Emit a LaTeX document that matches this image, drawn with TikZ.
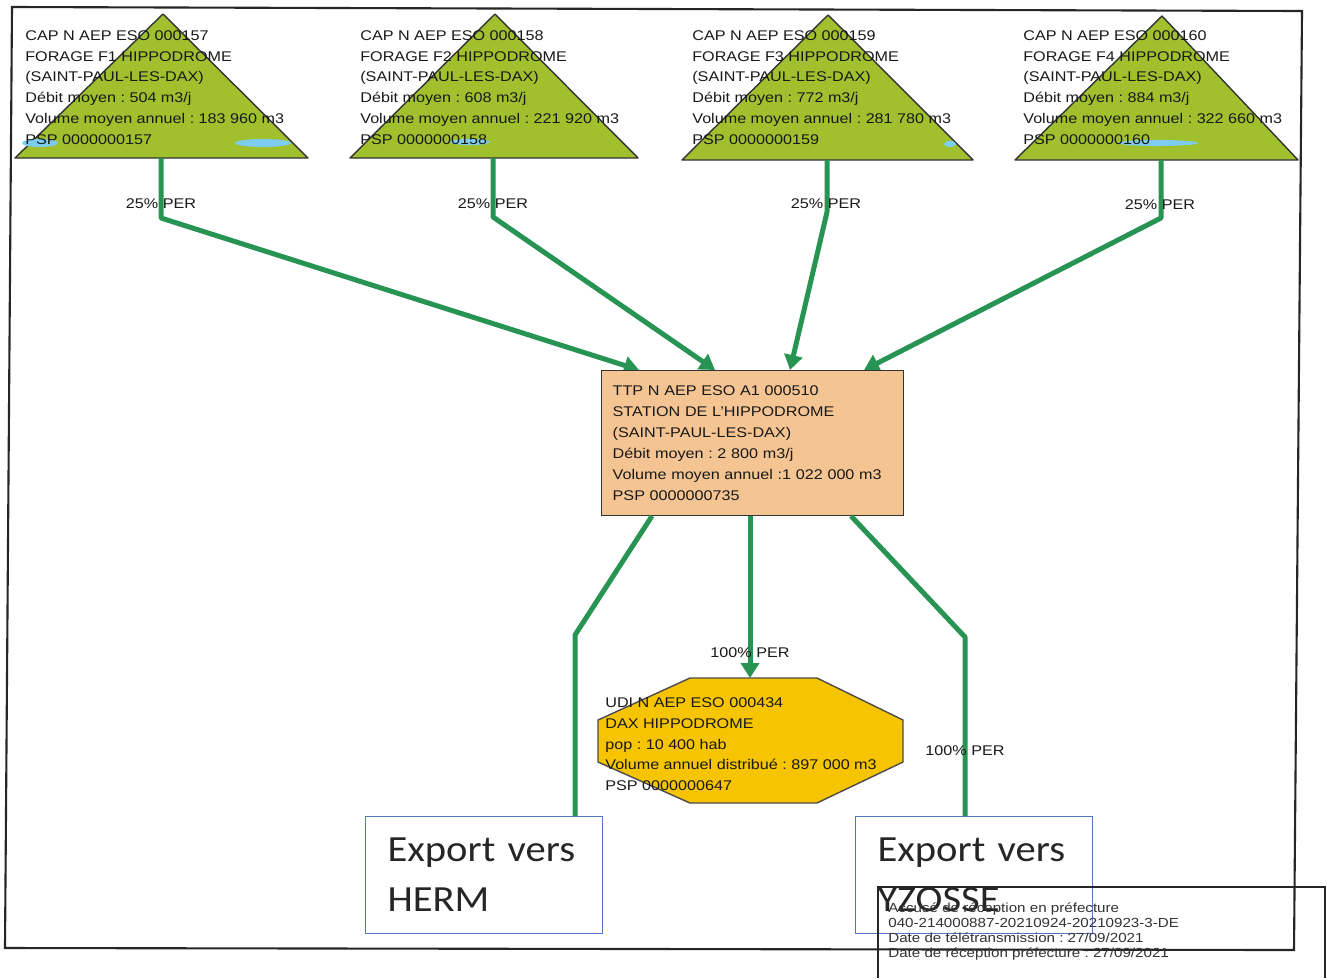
\documentclass[tikz,border=0pt]{standalone}
\usepackage{fontspec}
\setmainfont[FakeStretch=1.15]{Liberation Sans}
\newfontfamily\calibfont[FakeStretch=1.1]{Carlito}
\usetikzlibrary{arrows.meta}
\frenchspacing

\definecolor{capgreen}{RGB}{160,192,46}
\definecolor{pergreen}{RGB}{40,148,84}
\definecolor{ttpfill}{RGB}{244,196,146}
\definecolor{udifill}{RGB}{246,196,0}
\definecolor{nappe}{RGB}{125,205,240}
\definecolor{exportblue}{RGB}{84,120,192}
\definecolor{texte}{RGB}{25,25,25}

\tikzset{
  forage/.style={fill=capgreen, draw=black!80, line width=0.8pt, line join=round},
  fiche/.style={anchor=north west, align=left, inner sep=0pt, text=texte, font=\fontsize{8}{11.9}\selectfont},
  per/.style={pergreen, line width=0.1cm, line join=round},
  perarrow/.style={per, -{Triangle[width=0.36cm,length=0.3cm]}},
  perlab/.style={text=texte, inner sep=0pt, font=\fontsize{8}{9}\selectfont},
  ttpbox/.style={draw=black!80, fill=ttpfill, line width=0.8pt, anchor=north west, align=left, text=texte,
    font=\fontsize{8}{11.9}\selectfont, inner xsep=0.22cm, text width=5.6cm, minimum width=6.04cm, minimum height=2.9cm},
  udi/.style={fill=udifill, draw=black!70, line width=0.8pt, line join=round},
  export/.style={draw=exportblue, fill=white, line width=0.6pt, anchor=north west, align=left, text=black!85,
    font=\calibfont\fontsize{21}{28.5}\selectfont, inner xsep=0.44cm, text width=3.86cm, minimum width=4.74cm, minimum height=2.34cm},
  stamp/.style={anchor=north west, align=left, inner sep=0pt, text=black!80, font=\fontsize{7.5}{8.7}\selectfont}
}

\begin{document}
\begin{tikzpicture}[x=0.02cm, y=-0.02cm]
  \useasboundingbox (0,0) rectangle (1327,978);
  \fill[white] (0,0) rectangle (1327,978);
  \draw[black!85, line width=1.2pt] (12,7) -- (1302,11) -- (1294,950) -- (5,948) -- cycle;

  \filldraw[forage] (15,158) -- (163,14) -- (308,158) -- cycle;
  \filldraw[forage] (350,158) -- (495,14) -- (638,158) -- cycle;
  \filldraw[forage] (682,160) -- (828,15) -- (973,160) -- cycle;
  \filldraw[forage] (1015,160) -- (1162,16) -- (1298,160) -- cycle;
  \fill[nappe] (40,143) ellipse (18 and 4);
  \fill[nappe] (263,143) ellipse (28 and 4);
  \fill[nappe] (470,142) ellipse (20 and 3);
  \fill[nappe] (950,144) ellipse (6 and 3);
  \fill[nappe] (1158,143) ellipse (40 and 3);

  \node[fiche] (f1txt) at (25,30) {CAP N AEP ESO 000157\\FORAGE F1 HIPPODROME\\(SAINT-PAUL-LES-DAX)\\D\'ebit moyen : 504 m3/j\\Volume moyen annuel : 183 960 m3\\PSP 0000000157};
  \node[fiche] (f2txt) at (360,30) {CAP N AEP ESO 000158\\FORAGE F2 HIPPODROME\\(SAINT-PAUL-LES-DAX)\\D\'ebit moyen : 608 m3/j\\Volume moyen annuel : 221 920 m3\\PSP 0000000158};
  \node[fiche] (f3txt) at (692,30) {CAP N AEP ESO 000159\\FORAGE F3 HIPPODROME\\(SAINT-PAUL-LES-DAX)\\D\'ebit moyen : 772 m3/j\\Volume moyen annuel : 281 780 m3\\PSP 0000000159};
  \node[fiche] (f4txt) at (1023,30) {CAP N AEP ESO 000160\\FORAGE F4 HIPPODROME\\(SAINT-PAUL-LES-DAX)\\D\'ebit moyen : 884 m3/j\\Volume moyen annuel : 322 660 m3\\PSP 0000000160};

  \coordinate (f1) at (161,158);
  \coordinate (f2) at (493,158);
  \coordinate (f3) at (827,160);
  \coordinate (f4) at (1161,160);
  \coordinate (in1) at (639,370);
  \coordinate (in2) at (715,370);
  \coordinate (in3) at (790,370);
  \coordinate (in4) at (864,370);

  \draw[perarrow] (f1) -- (161,218) -- (in1);
  \draw[perarrow] (f2) -- (493,217) -- (in2);
  \draw[perarrow] (f3) -- (827,212) -- (in3);
  \draw[perarrow] (f4) -- (1161,218) -- (in4);
  \node[perlab] (l1) at (161,204) {25\% PER};
  \node[perlab] (l2) at (493,204) {25\% PER};
  \node[perlab] (l3) at (826,204) {25\% PER};
  \node[perlab] (l4) at (1160,205) {25\% PER};

  \node[ttpbox] (ttp) at (601,370) {TTP N AEP ESO A1 000510\\STATION DE L'HIPPODROME\\(SAINT-PAUL-LES-DAX)\\D\'ebit moyen : 2 800 m3/j\\Volume moyen annuel :1 022 000 m3\\PSP 0000000735};

  \node[export] (herm) at (365,816) {Export vers\\HERM};
  \node[export] (yzosse) at (855,816) {Export vers\\YZOSSE};

  \coordinate (o1) at (652,516);
  \coordinate (o2) at (750,516);
  \coordinate (o3) at (851,516);
  \coordinate (h1) at (575,635);
  \coordinate (y1) at (965,637);
  \coordinate (u0) at (750,678);
  \draw[per] (o1) -- (h1) -- (h1 |- herm.north);
  \draw[per] (o3) -- (y1) -- (y1 |- yzosse.north);

  \filldraw[udi] (690,678) -- (817,678) -- (903,720) -- (903,762) -- (817,803) -- (690,803) -- (598,762) -- (598,720) -- cycle;
  \draw[perarrow] (o2) -- (u0);
  \node[perlab] (l5) at (750,653) {100\% PER};
  \node[perlab] (l6) at (965,751) {100\% PER};
  \node[fiche] (udi) at (605,697) {UDI N AEP ESO 000434\\DAX HIPPODROME\\pop : 10 400 hab\\Volume annuel distribu\'e : 897 000 m3\\PSP 0000000647};

  \draw[black!85, line width=0.7pt] (878,978) -- (878,887) -- (1325,887) -- (1325,978);
  \node[stamp] (accuse) at (888,902) {Accus\'e de r\'eception en pr\'efecture\\040-214000887-20210924-20210923-3-DE\\Date de t\'el\'etransmission : 27/09/2021\\Date de r\'eception pr\'efecture : 27/09/2021};
\end{tikzpicture}
\end{document}
